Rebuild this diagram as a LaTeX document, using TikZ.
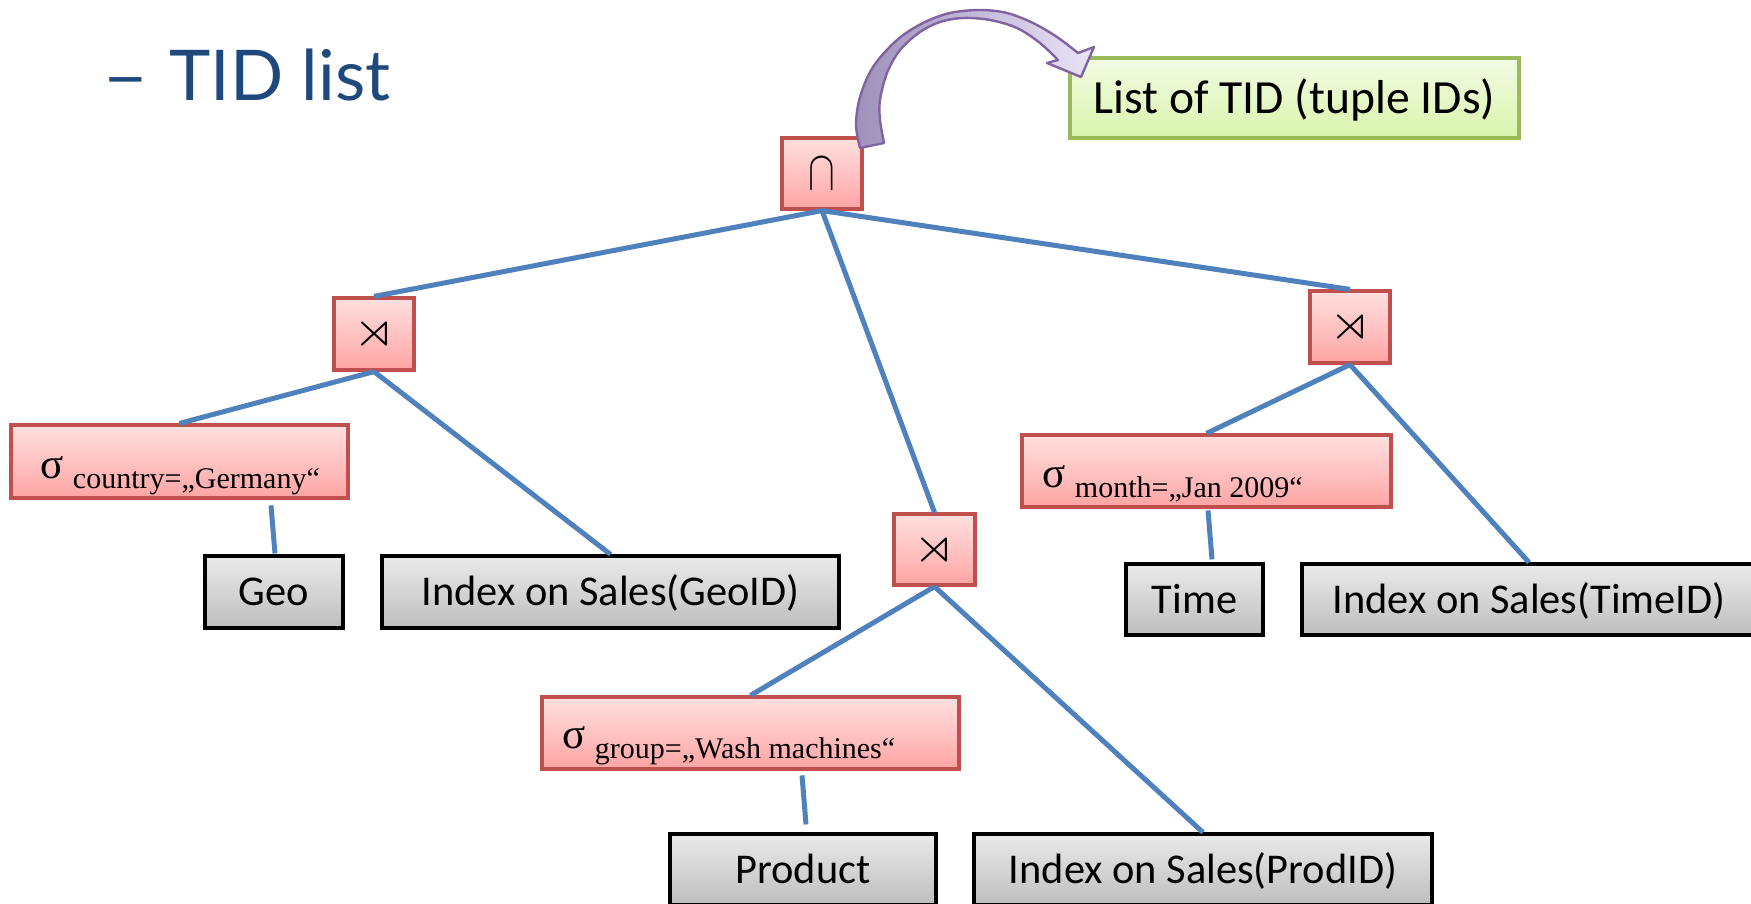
\documentclass[tikz,border=0pt]{standalone}
\usepackage{fontspec}
\usepackage{amssymb}
\setmainfont{Carlito}
\newfontfamily\subfont{Liberation Serif}
\newfontfamily\titlefont{Lato}
\usetikzlibrary{calc}
\definecolor{linkblue}{RGB}{79,129,189}
\definecolor{redline}{RGB}{192,80,77}
\definecolor{redtop}{RGB}{255,224,224}
\definecolor{redbot}{RGB}{255,164,164}
\definecolor{greytop}{RGB}{234,234,234}
\definecolor{greybot}{RGB}{190,190,190}
\definecolor{greenline}{RGB}{155,187,89}
\definecolor{greentop}{RGB}{242,251,228}
\definecolor{greenbot}{RGB}{218,244,172}
\definecolor{titleblue}{RGB}{31,73,125}
\definecolor{arrowline}{RGB}{128,100,162}
\definecolor{arrowdark}{RGB}{158,144,186}
\definecolor{arrowlight}{RGB}{234,228,247}
\newcommand\selsig{{\subfont\fontsize{21.5}{21.5}\selectfont σ}\hspace{4.5pt}}
\newcommand\subtext[1]{\raisebox{-5pt}{\subfont\fontsize{15}{15}\selectfont #1}}
\newcommand\semijoin{\scalebox{2.7}[2.5]{$\rtimes$}}
\begin{document}
\begin{tikzpicture}[x=0.5pt,y=-0.5pt,
  opbox/.style={draw=redline, line width=1.6pt, top color=redtop, bottom color=redbot, inner sep=0pt},
  relbox/.style={draw=black, line width=1.6pt, top color=greytop, bottom color=greybot, inner sep=0pt,
    font=\fontsize{21.2}{24}\selectfont, text height=13.6pt, text depth=0pt},
  notebox/.style={draw=greenline, line width=1.6pt, top color=greentop, bottom color=greenbot, inner sep=0pt,
    font=\fontsize{23.8}{26}\selectfont, text height=15.3pt, text depth=0pt},
  link/.style={draw=linkblue, line width=2.5pt},
  sellabel/.style={anchor=base west, inner sep=0pt},
  curvedarrow/.style={draw=arrowline, line width=1.2pt, line join=round, left color=arrowdark, right color=arrowlight}
]
\useasboundingbox (0,0) rectangle (1751,904);

\node[anchor=base west, inner sep=0pt, text=titleblue, font=\titlefont\fontsize{35}{40}\selectfont] (title) at (102,101) {\scalebox{1.15}[1]{–}\hspace{1.3pt} TID list};

% operator boxes
\node[opbox, minimum width=40pt, minimum height=35.5pt] (cap) at (822,173.5) {\scalebox{2}[2.8]{$\cap$}};
\node[opbox, minimum width=40pt, minimum height=36pt] (sjL) at (374,334) {\semijoin};
\node[opbox, minimum width=40pt, minimum height=36pt] (sjR) at (1350,327) {\semijoin};
\node[opbox, minimum width=40.5pt, minimum height=35.5pt] (sjM) at (934.5,549.5) {\semijoin};

% selections
\node[opbox, minimum width=168.5pt, minimum height=36.5pt] (selC) at (179.5,461.5) {};
\node[sellabel] (selCtext) at ($(selC.west)+(31,16.5)$) {\selsig\subtext{country=„Germany“}};
\node[opbox, minimum width=184.5pt, minimum height=36pt] (selM) at (1206.5,471) {};
\node[sellabel] (selMtext) at ($(selM.west)+(22,16)$) {\selsig\subtext{month=„Jan 2009“}};
\node[opbox, minimum width=208.5pt, minimum height=36pt] (selG) at (750.5,733) {};
\node[sellabel] (selGtext) at ($(selG.west)+(22,15)$) {\selsig\subtext{group=„Wash machines“}};

% relations and indexes
\node[relbox, minimum width=69pt, minimum height=36pt] (geo) at (274,592) {Geo};
\node[relbox, minimum width=228.5pt, minimum height=36pt] (idxG) at (610.5,592) {Index on Sales(GeoID)};
\node[relbox, minimum width=68.5pt, minimum height=35.5pt] (time) at (1194.5,599.5) {Time};
\node[relbox, minimum width=227pt, minimum height=35.5pt] (idxT) at (1529,599.5) {Index on Sales(TimeID)};
\node[relbox, minimum width=133pt, minimum height=35.5pt] (prod) at (803,869.5) {Product};
\node[relbox, minimum width=229pt, minimum height=35.5pt] (idxP) at (1203,869.5) {Index on Sales(ProdID)};

\node[notebox, minimum width=224.5pt, minimum height=40pt] (note) at (1294.5,98) {List of TID (tuple IDs)};

% connectors
\draw[link] (cap.south) -- (sjL.north);
\draw[link] (cap.south) -- (sjM.north);
\draw[link] (cap.south) -- (sjR.north);
\draw[link] (sjL.south) -- (selC.north);
\draw[link] (sjL.south) -- (idxG.north);
\draw[link] ($(geo.north)+(-3,-49)$) -- ($(geo.north)+(1,-1)$);
\draw[link] (sjM.south) -- (selG.north);
\draw[link] (sjM.south) -- (idxP.north);
\draw[link] ($(prod.north)+(-1,-57)$) -- ($(prod.north)+(3,-8)$);
\draw[link] (sjR.south) -- (selM.north);
\draw[link] (sjR.south) -- (idxT.north);
\draw[link] ($(time.north)+(13.5,-52)$) -- ($(time.north)+(17.5,-3)$);

% curved arrow from the intersection to the note
\path[curvedarrow] plot[smooth, tension=0.55] coordinates {(860,148) (856,125) (860,97) (873,67) (897,40) (923,23) (950,13) (980,10) (1007,13) (1033,23) (1057,37) (1078,53)}
  -- (1094,47) -- (1081,77) -- (1047,63) -- (1058,60)
  -- plot[smooth, tension=0.55] coordinates {(1058,60) (1040,43) (1017,28) (990,20) (963,18) (940,22) (920,32) (900,50) (887,73) (880,100) (880,120) (884,143)}
  -- cycle;
\end{tikzpicture}
\end{document}
